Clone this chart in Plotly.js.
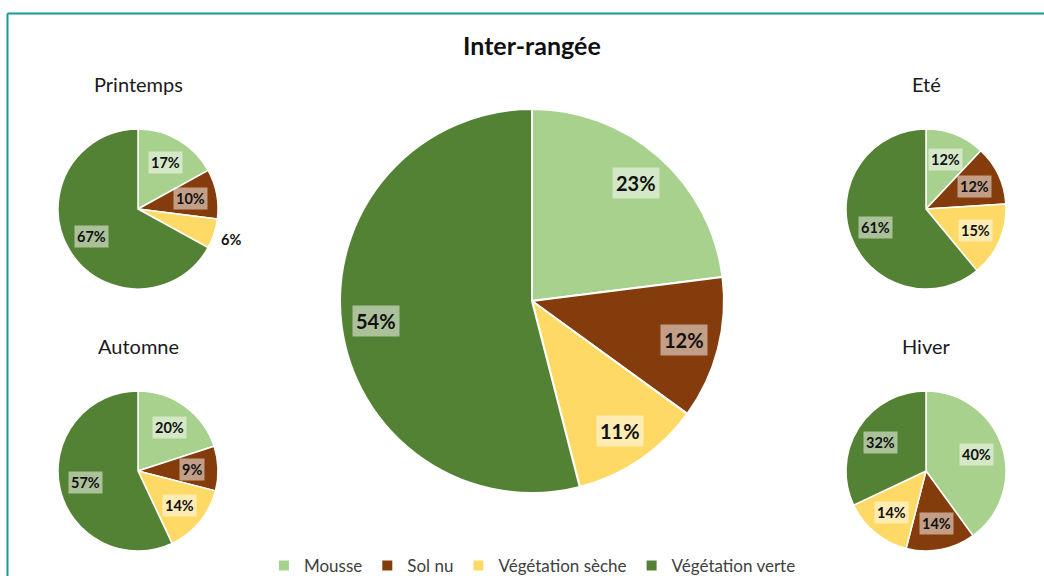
<!DOCTYPE html>
<html>
<head>
<meta charset="utf-8">
<script src="https://cdn.plot.ly/plotly-3.0.1.min.js"></script>
<style>
html,body{margin:0;padding:0;background:#fff;}
#chart{width:1044px;height:576px;}
</style>
</head>
<body>
<div id="chart"></div>
<script>
// ---- Data ----
const categories = ["Mousse", "Sol nu", "Végétation sèche", "Végétation verte"];
const colors = ["#a9d18e", "#843c0c", "#ffd966", "#548235"];

const mainTitle = "Inter-rangée";
const interRangee = [23, 12, 11, 54];

const seasonNames = ["Printemps", "Eté", "Automne", "Hiver"];
const printemps = [17, 10, 6, 67];
const ete = [12, 12, 15, 61];
const automne = [20, 9, 14, 57];
const hiver = [40, 14, 14, 32];

// ---- Layout geometry ----
const W = 1044, H = 576;
const FONT = "Lato, 'Open Sans', sans-serif";

// pie placement in pixels (center x, center y, radius)
const pies = [
  {name: mainTitle, values: interRangee, cx: 532, cy: 301, r: 192, main: true},
  {name: seasonNames[0], values: printemps, cx: 138, cy: 209, r: 80},
  {name: seasonNames[1], values: ete, cx: 926, cy: 209, r: 80},
  {name: seasonNames[2], values: automne, cx: 138, cy: 471, r: 80},
  {name: seasonNames[3], values: hiver, cx: 926, cy: 471, r: 80}
];

const traces = [];
const annotations = [];

pies.forEach((p, i) => {
  const domain = {
    x: [(p.cx - p.r) / W, (p.cx + p.r) / W],
    y: [1 - (p.cy + p.r) / H, 1 - (p.cy - p.r) / H]
  };
  traces.push({
    type: "pie",
    labels: categories,
    values: p.values,
    sort: false,
    direction: "clockwise",
    rotation: 0,
    marker: {colors: colors, line: {color: "#ffffff", width: p.main ? 2 : 1.5}},
    textinfo: "none",
    hoverinfo: "label+percent",
    domain: domain,
    showlegend: i === 0,
    name: p.name
  });

  // data labels computed from values
  const total = p.values.reduce((a, b) => a + b, 0);
  let cum = 0;
  p.values.forEach((v, k) => {
    const mid = 2 * Math.PI * (cum + v / 2) / total;
    cum += v;
    const small = !p.main && v / total < 0.08;
    const f = p.main ? 0.82 : (small ? 1.22 : 0.67);
    const x = p.cx + f * p.r * Math.sin(mid);
    const y = p.cy - f * p.r * Math.cos(mid);
    annotations.push({
      xref: "paper", yref: "paper",
      x: x / W, y: 1 - y / H,
      xanchor: "center", yanchor: "middle",
      showarrow: false,
      text: "<b>" + Math.round(v / total * 100) + "%</b>",
      font: {family: FONT, size: p.main ? 20 : 14.5, color: "#111111"},
      bgcolor: small ? "rgba(0,0,0,0)" : "rgba(255,255,255,0.5)",
      borderpad: p.main ? 3 : 2
    });
  });

  // pie titles
  if (p.main) {
    annotations.push({
      xref: "paper", yref: "paper", x: p.cx / W, y: 1 - 45 / H,
      xanchor: "center", yanchor: "middle", showarrow: false,
      text: "<b>" + p.name + "</b>",
      font: {family: FONT, size: 25, color: "#111111"}
    });
  } else {
    annotations.push({
      xref: "paper", yref: "paper", x: p.cx / W, y: 1 - (p.cy - 125) / H,
      xanchor: "center", yanchor: "middle", showarrow: false,
      text: p.name,
      font: {family: FONT, size: 20, color: "#1a1a1a"}
    });
  }
});

const layout = {
  width: W, height: H,
  margin: {l: 0, r: 0, t: 0, b: 0, autoexpand: false},
  paper_bgcolor: "#ffffff",
  showlegend: true,
  legend: {
    orientation: "h",
    x: 0.51, xanchor: "center",
    yref: "container",
    y: 1 - 566 / H, yanchor: "middle",
    font: {family: FONT, size: 17, color: "#404040"},
    itemwidth: 30,
    traceorder: "normal"
  },
  annotations: annotations,
  shapes: [
    {type: "line", xref: "paper", yref: "paper", x0: 7.5 / W, x1: 1, y0: 1 - 13.5 / H, y1: 1 - 13.5 / H,
     line: {color: "#169a9a", width: 2}},
    {type: "line", xref: "paper", yref: "paper", x0: 7.5 / W, x1: 7.5 / W, y0: 0, y1: 1 - 13.5 / H,
     line: {color: "#169a9a", width: 2}}
  ]
};

Plotly.newPlot("chart", traces, layout, {displayModeBar: false, staticPlot: true});
</script>
</body>
</html>
